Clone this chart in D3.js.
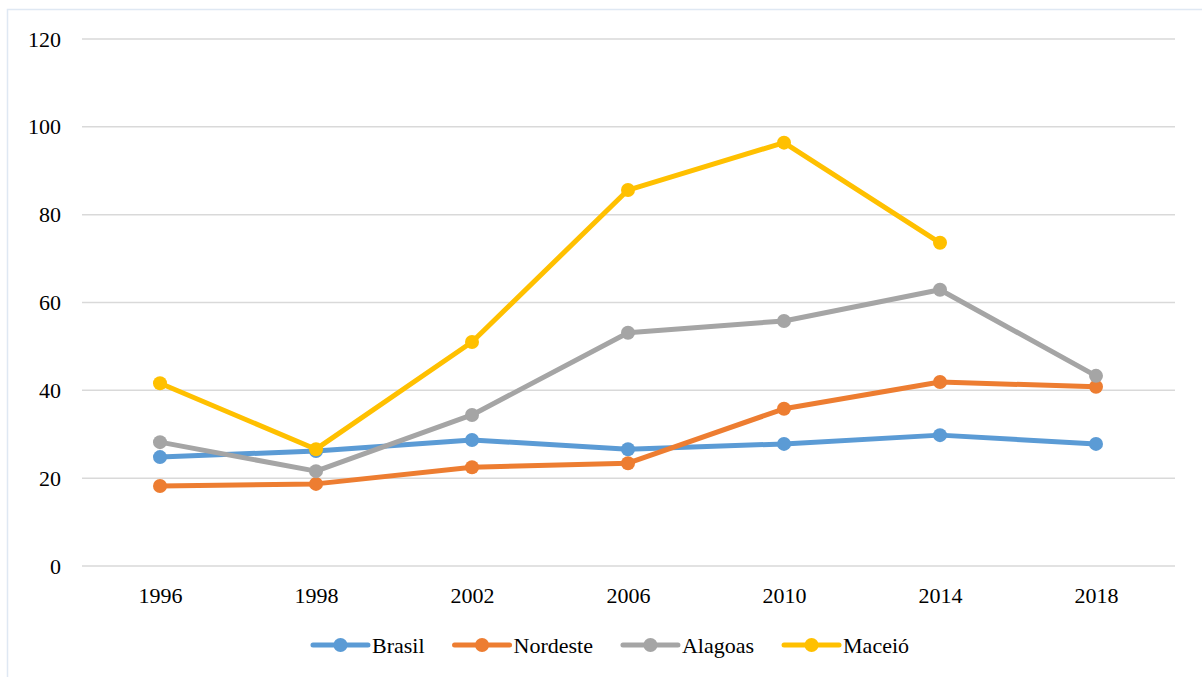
<!DOCTYPE html>
<html>
<head>
<meta charset="utf-8">
<script src="https://cdn.jsdelivr.net/npm/d3@7"></script>
<style>
  body { margin: 0; background: #fff; }
</style>
</head>
<body>
<svg id="chart" width="1202" height="677"></svg>
<script>
const years = ['1996', '1998', '2002', '2006', '2010', '2014', '2018'];
const brasil = [24.8, 26.2, 28.7, 26.6, 27.8, 29.8, 27.8];
const nordeste = [18.2, 18.7, 22.5, 23.4, 35.8, 41.9, 40.8];
const alagoas = [28.2, 21.6, 34.4, 53.1, 55.8, 62.9, 43.3];
const maceio = [41.6, 26.6, 51.0, 85.6, 96.4, 73.6, null];
const yTicks = [0, 20, 40, 60, 80, 100, 120];
const seriesNames = ['Brasil', 'Nordeste', 'Alagoas', 'Maceió'];
const seriesColors = ['#5B9BD5', '#ED7D31', '#A5A5A5', '#FFC000'];

const serif = "'Times New Roman', 'Liberation Serif', 'DejaVu Serif', serif";

const series = [brasil, nordeste, alagoas, maceio].map((values, i) => ({
  name: seriesNames[i],
  color: seriesColors[i],
  points: values.map((v, j) => ({year: years[j], value: v}))
}));

const svg = d3.select('#chart');

// faint outer frame
svg.append('rect')
  .attr('x', 7.5).attr('y', 9.5)
  .attr('width', 1210).attr('height', 690)
  .attr('fill', 'none')
  .attr('stroke', '#dfe8f3')
  .attr('stroke-width', 1.5);

const x = d3.scalePoint()
  .domain(years)
  .range([82, 1174])
  .padding(0.5);

const y = d3.scaleLinear()
  .domain([0, 120])
  .range([566, 39]);

// gridlines
svg.append('g')
  .selectAll('line')
  .data(yTicks)
  .join('line')
  .attr('x1', 82).attr('x2', 1175)
  .attr('y1', d => y(d)).attr('y2', d => y(d))
  .attr('stroke', '#d9d9d9')
  .attr('stroke-width', 1.5);

// y labels
const yAxis = svg.append('g')
  .attr('transform', 'translate(61,0)')
  .call(d3.axisLeft(y).tickValues(yTicks).tickSize(0).tickPadding(0));
yAxis.select('.domain').remove();
yAxis.attr('font-family', null).attr('font-size', null);
yAxis.selectAll('text')
  .style('font-family', serif)
  .style('font-size', '22px')
  .attr('fill', '#000');

// x labels
const xAxis = svg.append('g')
  .attr('transform', 'translate(0,581)')
  .call(d3.axisBottom(x).tickSize(0).tickPadding(6));
xAxis.select('.domain').remove();
xAxis.attr('font-family', null).attr('font-size', null);
xAxis.selectAll('text')
  .style('font-family', serif)
  .style('font-size', '22px')
  .attr('fill', '#000');

const line = d3.line()
  .defined(d => d.value != null)
  .x(d => x(d.year))
  .y(d => y(d.value));

const groups = svg.append('g')
  .selectAll('g')
  .data(series)
  .join('g');

groups.append('path')
  .attr('d', d => line(d.points))
  .attr('fill', 'none')
  .attr('stroke', d => d.color)
  .attr('stroke-width', 5)
  .attr('stroke-linejoin', 'round')
  .attr('stroke-linecap', 'round');

groups.each(function (s) {
  d3.select(this).selectAll('circle')
    .data(s.points.filter(p => p.value != null))
    .join('circle')
    .attr('cx', p => x(p.year))
    .attr('cy', p => y(p.value))
    .attr('r', 7)
    .attr('fill', s.color);
});

// legend, laid out from measured text widths and centred under the plot
const legendG = svg.append('g');
const legend = legendG.selectAll('g')
  .data(series)
  .join('g');

legend.append('line')
  .attr('x1', 0).attr('x2', 55)
  .attr('stroke', d => d.color)
  .attr('stroke-width', 5)
  .attr('stroke-linecap', 'round');
legend.append('circle')
  .attr('cx', 27.5).attr('r', 7)
  .attr('fill', d => d.color);
legend.append('text')
  .attr('x', 59).attr('y', 8)
  .style('font-family', serif)
  .style('font-size', '22px')
  .attr('fill', '#000')
  .text(d => d.name);

const gap = 30;
let offset = 0;
legend.each(function () {
  const w = d3.select(this).select('text').node().getComputedTextLength();
  d3.select(this).attr('transform', `translate(${offset},645)`);
  offset += 59 + w + gap;
});
const totalW = offset - gap;
legendG.attr('transform', `translate(${611 - totalW / 2},0)`);
</script>
</body>
</html>
